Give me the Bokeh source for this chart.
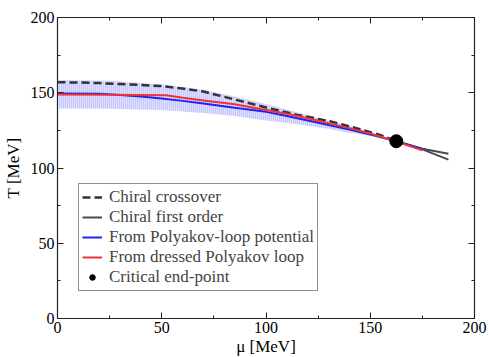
from bokeh.plotting import figure
from bokeh.models import LinearAxis, Legend, LegendItem, FixedTicker, CustomLabelingPolicy
from bokeh.embed import file_html
from bokeh.resources import INLINE

# Data
mu_cross = [0, 10, 20, 30, 40, 50, 60, 70, 85, 102, 115, 131, 145, 155, 162.5]
T_cross = [157, 156.8, 156.4, 155.8, 155.2, 154.4, 152.8, 150.8, 145.5, 139.5, 135.3, 131.0, 125.8, 121.8, 117.8]

mu_first_a = [162.5, 175, 187.5]
T_first_a = [117.8, 112.8, 109.4]
mu_first_b = [162.5, 175, 187.5]
T_first_b = [117.8, 112.4, 105.6]

mu_poly = [0, 20, 30, 40, 50, 60, 70, 85, 100, 110, 120, 130, 140, 150, 162.5, 175]
T_poly = [149.5, 149.3, 148.5, 147.5, 146.2, 144.6, 142.8, 140.0, 137.3, 134.6, 131.6, 128.6, 125.5, 122.3, 117.8, 112.6]

mu_dressed = [0, 25, 52, 60, 70, 85, 100, 110, 120, 130, 140, 150, 162.5, 175]
T_dressed = [148.8, 148.7, 148.3, 146.7, 144.9, 142.4, 138.6, 136.0, 133.0, 129.8, 126.5, 122.9, 117.6, 111.8]

mu_band = [0, 25, 50, 70, 85, 100, 115, 130, 140, 150, 156]
T_band_low = [139.5, 139.3, 138.5, 136.5, 134.5, 131.5, 129.0, 126.0, 123.5, 121.5, 120.6]
T_band_high = [158.5, 158.0, 155.5, 152.0, 147.5, 142.5, 137.0, 131.5, 128.0, 124.0, 121.0]

cep_mu = [162.5]
cep_T = [117.8]

xticks = [0, 50, 100, 150, 200]
yticks = [0, 50, 100, 150, 200]
minor = [25, 75, 125, 175]

FONT = "Liberation Serif"

p = figure(width=489, height=357, output_backend="svg", toolbar_location=None,
           x_range=(0, 200), y_range=(0, 200),
           frame_width=417, frame_height=301,
           min_border_left=57, min_border_right=15, min_border_top=17, min_border_bottom=39)
p.grid.visible = False
p.outline_line_color = "#222222"
p.outline_line_width = 1.2
p.background_fill_color = "white"
p.border_fill_color = "white"

def style_axis(ax, ticks, labels=True):
    ax.ticker = FixedTicker(ticks=ticks, minor_ticks=minor)
    ax.major_tick_in = 6
    ax.major_tick_out = 0
    ax.minor_tick_in = 3
    ax.minor_tick_out = 0
    ax.axis_line_color = "#222222"
    ax.major_tick_line_color = "#222222"
    ax.minor_tick_line_color = "#222222"
    ax.major_label_text_font = FONT
    ax.major_label_text_font_size = "16px" if labels else "0px"
    ax.major_label_text_color = "black"
    ax.axis_label_text_font = FONT
    ax.axis_label_text_font_size = "17px"
    ax.axis_label_text_font_style = "normal"
    ax.axis_label_text_color = "black"
    ax.major_label_standoff = 3

style_axis(p.xaxis[0], xticks)
style_axis(p.yaxis[0], yticks)
p.xaxis[0].axis_label = "μ [MeV]"
p.yaxis[0].axis_label = "T [MeV]"
p.xaxis[0].axis_label_standoff = 1
p.yaxis[0].axis_label_standoff = 5

no_labels = "for (const i of indices) { indices.unset(i) }\nreturn indices"
top = LinearAxis(major_label_policy=CustomLabelingPolicy(code=no_labels))
right = LinearAxis(major_label_policy=CustomLabelingPolicy(code=no_labels))
style_axis(top, xticks, False)
style_axis(right, yticks, False)
top.major_label_standoff = 0
right.major_label_standoff = 0
p.add_layout(top, "above")
p.add_layout(right, "right")

# Band
p.varea(x=mu_band, y1=T_band_low, y2=T_band_high, fill_color="#d4d4ff", fill_alpha=0.75,
        hatch_pattern="vertical_line", hatch_color="#9a9aff", hatch_alpha=0.7,
        hatch_scale=2, hatch_weight=1)

r_cross = p.line(mu_cross, T_cross, line_color="#333333", line_width=2.5, line_dash="8 4")
r_first = p.multi_line([mu_first_a, mu_first_b], [T_first_a, T_first_b], line_color="#4a4a4a", line_width=2)
r_poly = p.line(mu_poly, T_poly, line_color="#2222ee", line_width=2)
r_dressed = p.line(mu_dressed, T_dressed, line_color="#ee3333", line_width=2)
r_first_leg = p.line([mu_first_a[0]], [T_first_a[0]], line_color="#4a4a4a", line_width=2)
r_cep = p.scatter(cep_mu, cep_T, size=13, color="black")

legend = Legend(items=[
    LegendItem(label="Chiral crossover", renderers=[r_cross]),
    LegendItem(label="Chiral first order", renderers=[r_first_leg]),
    LegendItem(label="From Polyakov-loop potential", renderers=[r_poly]),
    LegendItem(label="From dressed Polyakov loop", renderers=[r_dressed]),
    LegendItem(label="Critical end-point", renderers=[r_cep]),
], location=(21, 27))
legend.label_text_font = FONT
legend.label_text_font_size = "17px"
legend.glyph_width = 20
legend.glyph_height = 14
legend.label_height = 14
legend.spacing = 0
legend.padding = 3
legend.margin = 0
legend.label_standoff = 7
legend.border_line_color = "#222222"
legend.border_line_width = 1
legend.background_fill_color = "white"
legend.background_fill_alpha = 1
p.add_layout(legend, "center")

open("out.html", "w").write(file_html(p, INLINE))
